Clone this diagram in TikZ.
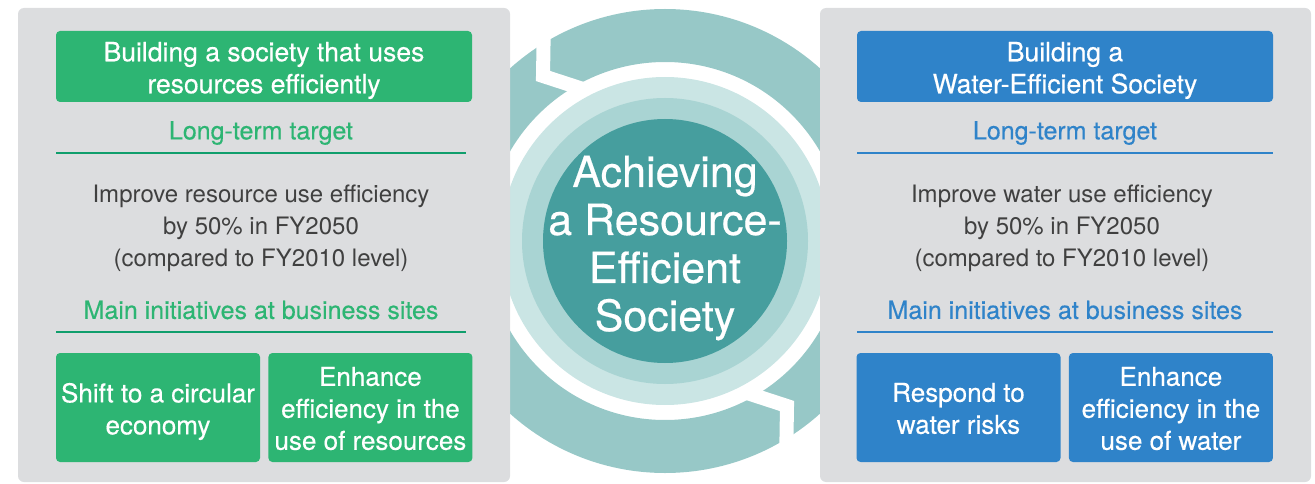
\documentclass[tikz,border=0pt]{standalone}
\usepackage{fontspec}
\setmainfont{TeX Gyre Heros}
\newfontfamily\medfont[FakeBold=0.4]{TeX Gyre Heros}
\usetikzlibrary{positioning}
\definecolor{panelgray}{HTML}{DCDDDF}
\definecolor{resgreen}{HTML}{2DB573}
\definecolor{resline}{HTML}{109E6C}
\definecolor{watblue}{HTML}{2F83C9}
\definecolor{ringout}{HTML}{97C8C7}
\definecolor{ringlight}{HTML}{CAE5E4}
\definecolor{ringmid}{HTML}{A9D4D3}
\definecolor{ringcore}{HTML}{469E9E}
\definecolor{bodygray}{HTML}{404040}
\tikzstyle{panel}=[fill=panelgray, rounded corners=6pt]
\tikzstyle{ttlbox}=[rectangle, rounded corners=4pt, minimum width=416pt,
                    minimum height=71pt, inner sep=0pt]
\tikzstyle{initbox}=[rectangle, rounded corners=4pt, minimum width=204pt,
                    minimum height=109pt, inner sep=0pt]
\tikzstyle{boxtxt}=[inner sep=0pt, text=white, align=center,
                    font=\medfont\fontsize{26}{32}\selectfont]
\tikzstyle{headtxt}=[inner sep=0pt, font=\medfont\fontsize{25}{30}\selectfont]
\tikzstyle{bodytxt}=[inner sep=0pt, text=bodygray, align=center, font=\fontsize{24}{32}\selectfont]
\tikzstyle{hline}=[line width=2pt]
\tikzstyle{gapline}=[draw=white, line width=14pt, line join=miter]

\begin{document}
\begin{tikzpicture}[x=1pt,y=1pt]
\useasboundingbox (0,0) rectangle (1315,483);

% ring in the middle
\coordinate (ctr) at (665,242);
\fill[ringout, even odd rule] (ctr) circle (232pt) (ctr) circle (179pt);
\draw[gapline] (544,468) -- (543,407) -- (586,393);
\draw[gapline] (786,16) -- (787,77) -- (744,91);
\fill[ringlight] (ctr) circle (164pt);
\fill[ringmid] (ctr) circle (143pt);
\fill[ringcore] (ctr) circle (122pt);
\node (ctrtxt) [inner sep=0pt, text=white, align=center, font=\medfont\fontsize{43}{48}\selectfont]
  at (665,235) {Achieving\\a Resource-\\Efficient\\Society};

% resources side
\fill[panel] (18,1) rectangle (510,475);
\node (resttl) [ttlbox, fill=resgreen] at (264,416.5) {};
\node (resttltxt) [boxtxt, font=\medfont\fontsize{26.5}{32}\selectfont] at ([yshift=-4pt]resttl.center)
  {Building a society that uses\\resources efficiently};
\node (reslt) [headtxt, text=resgreen] at (261,350) {Long-term target};
\draw[hline, resline] (56,330) -- (466,330);
\node (restgt) [bodytxt] at (261,255) {Improve resource use efficiency\\by 50\% in FY2050\\(compared to FY2010 level)};
\node (resmi) [headtxt, text=resgreen] at (261,173) {Main initiatives at business sites};
\draw[hline, resline] (56,151) -- (466,151);
\node (rescirc) [initbox, fill=resgreen] at (158,75.5) {};
\node (rescirctxt) [boxtxt] at ([yshift=-4pt]rescirc.center) {Shift to a circular\\economy};
\node (reseff) [initbox, fill=resgreen, right=8pt of rescirc] {};
\node (resefftxt) [boxtxt] at ([yshift=-1pt]reseff.center) {Enhance\\efficiency in the\\use of resources};

% water side
\fill[panel] (820,1) rectangle (1311,475);
\node (watttl) [ttlbox, fill=watblue] at (1065,416.5) {};
\node (watttltxt) [boxtxt, font=\medfont\fontsize{26.5}{32}\selectfont] at ([yshift=-4pt]watttl.center)
  {Building a\\Water-Efficient Society};
\node (watlt) [headtxt, text=watblue] at (1065,350) {Long-term target};
\draw[hline, watblue] (857,330) -- (1273,330);
\node (wattgt) [bodytxt] at (1062,255) {Improve water use efficiency\\by 50\% in FY2050\\(compared to FY2010 level)};
\node (watmi) [headtxt, text=watblue] at (1065,173) {Main initiatives at business sites};
\draw[hline, watblue] (857,151) -- (1273,151);
\node (watrisk) [initbox, fill=watblue] at (958.5,75.5) {};
\node (watrisktxt) [boxtxt] at ([yshift=-1pt]watrisk.center) {Respond to\\water risks};
\node (wateff) [initbox, fill=watblue, right=8pt of watrisk] {};
\node (watefftxt) [boxtxt] at ([yshift=-1pt]wateff.center) {Enhance\\efficiency in the\\use of water};

\end{tikzpicture}
\end{document}
